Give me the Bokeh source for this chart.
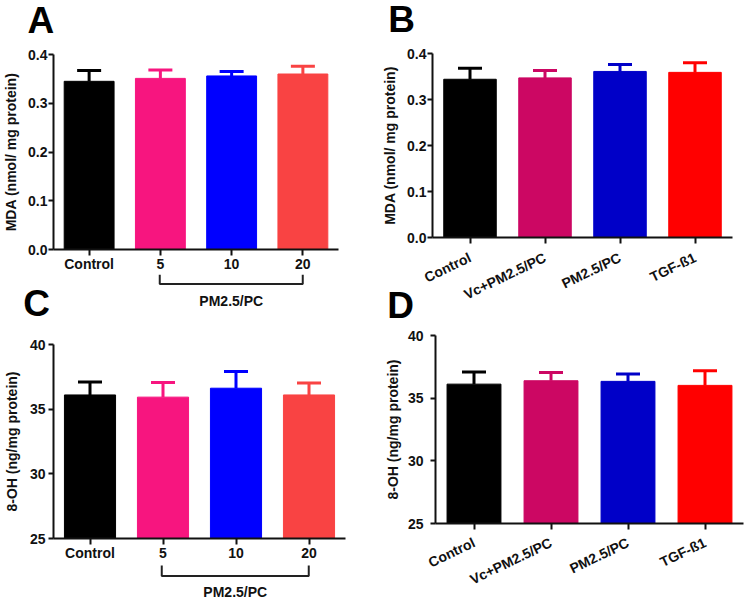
from bokeh.plotting import figure
from bokeh.layouts import row, column
from bokeh.models import Range1d, FactorRange, FixedTicker, ColumnDataSource
from bokeh.core.properties import value
from bokeh.embed import file_html
from bokeh.resources import INLINE

FONT = "Liberation Sans"

# ---------------- data ----------------
a_cats = ["Control", "5", "10", "20"]
a_mean = [0.345, 0.351, 0.356, 0.360]
a_err = [0.022, 0.017, 0.009, 0.016]
a_colors = ["#000000", "#F7157F", "#0000FF", "#F94343"]

b_cats = ["Control", "Vc+PM2.5/PC", "PM2.5/PC", "TGF-ß1"]
b_mean = [0.344, 0.347, 0.361, 0.359]
b_err = [0.024, 0.016, 0.015, 0.021]
b_colors = ["#000000", "#CC0763", "#0000C8", "#FF0000"]

c_cats = ["Control", "5", "10", "20"]
c_mean = [36.10, 35.93, 36.62, 36.10]
c_err = [1.00, 1.13, 1.29, 0.93]

d_cats = ["Control", "Vc+PM2.5/PC", "PM2.5/PC", "TGF-ß1"]
d_mean = [36.12, 36.39, 36.34, 36.02]
d_err = [0.96, 0.66, 0.58, 1.17]

mda_ticks = [0.0, 0.1, 0.2, 0.3, 0.4]
oh_ticks = [25, 30, 35, 40]

group_label = "PM2.5/PC"
group_from, group_mid, group_to = "5", "10", "20"

LETTER_PX = 37
GROUP_PX = 14


def blank(width, height, x_range=None, borders=(0, 0), **kw):
    """Plain canvas with no axes (for panel letters and brackets)."""
    xr = x_range if x_range is not None else Range1d(0, width)
    p = figure(x_range=xr, y_range=Range1d(height, 0), width=width,
               height=height, output_backend="svg", toolbar_location=None,
               x_axis_location=None, y_axis_location=None,
               min_border_left=borders[0], min_border_right=borders[1],
               min_border_top=0, min_border_bottom=0, frame_align=False,
               **kw)
    p.outline_line_color = None
    p.grid.visible = False
    return p


def letter(p, text, x, baseline):
    p.text(x=[x], y=[baseline - 0.35 * LETTER_PX], text=[text],
           text_font=value(FONT), text_font_style="bold",
           text_font_size=value(f"{LETTER_PX}px"),
           text_color="#000000", text_baseline="alphabetic",
           text_align="left")


def bracket(p, y_top, y_bot, baseline):
    p.line(x=[group_from, group_from, group_to, group_to],
           y=[y_top, y_bot, y_bot, y_top], line_width=2,
           line_color="#222222")
    p.text(x=[group_mid], y=[baseline - 0.35 * GROUP_PX], text=[group_label],
           text_font=value(FONT), text_font_style="bold",
           text_font_size=value(f"{GROUP_PX}px"), text_color="#111111",
           text_align="center", text_baseline="alphabetic")


def panel(cats, mean, err, colors, ylim, ticks, ylabel, width, height,
          borders, rotate, fmt_dec, ytick_standoff, ylab_standoff,
          xlab_standoff):
    bl, br, bt, bb = borders
    p = figure(x_range=FactorRange(*cats, range_padding=0),
               y_range=Range1d(*ylim),
               width=width, height=height, output_backend="svg",
               toolbar_location=None, frame_align=False,
               min_border_left=bl, min_border_right=br,
               min_border_top=bt, min_border_bottom=bb)
    p.outline_line_color = None
    p.xgrid.grid_line_color = None
    p.ygrid.grid_line_color = None

    top = [m + e for m, e in zip(mean, err)]
    src = ColumnDataSource(dict(x=cats, m=mean, t=top, c=colors))
    p.vbar(x="x", top="m", bottom=ylim[0], width=0.7, source=src,
           fill_color="c", line_color="c", line_width=1)
    p.segment(x0="x", y0="m", x1="x", y1="t", line_color="c",
              line_width=3, source=src)
    p.scatter(x="x", y="t", marker="dash", size=24, line_color="c",
              line_width=3, source=src)

    for ax in (p.xaxis[0], p.yaxis[0]):
        ax.axis_line_width = 2
        ax.axis_line_color = "#111111"
        ax.major_tick_line_width = 2
        ax.major_tick_line_color = "#111111"
        ax.major_label_text_font = FONT
        ax.major_label_text_font_style = "bold"
        ax.major_label_text_font_size = "14px"
        ax.major_label_text_color = "#111111"
        ax.minor_tick_line_color = None
        ax.major_tick_in = 0

    p.yaxis.ticker = FixedTicker(ticks=ticks)
    p.yaxis.major_tick_out = 5
    p.yaxis.major_label_standoff = ytick_standoff
    p.yaxis.axis_label = ylabel
    p.yaxis.axis_label_text_font = FONT
    p.yaxis.axis_label_text_font_style = "bold"
    p.yaxis.axis_label_text_font_size = "14px"
    p.yaxis.axis_label_text_color = "#111111"
    p.yaxis.axis_label_standoff = ylab_standoff
    if fmt_dec:
        p.yaxis.major_label_overrides = {t: f"{t:.1f}" for t in ticks}

    p.xaxis.major_tick_out = 6
    p.xaxis.major_label_standoff = xlab_standoff
    if rotate:
        p.xaxis.major_label_orientation = 0.45
    return p


# ---------------- left column (A, C) ----------------
topA = blank(375, 46)
letter(topA, "A", 27, 33)

pa = panel(a_cats, a_mean, a_err, a_colors, (0, 0.4), mda_ticks,
           "MDA (nmol/ mg protein)", 375, 228, (52, 37, 8, 25),
           False, True, 1, 6, 0)

midL = blank(52, 62)
letter(midL, "C", 22.7, 42)
midR = blank(323, 62, x_range=pa.x_range, borders=(0, 37))
bracket(midR, 0, 9.5, 31)

pc = panel(c_cats, c_mean, c_err, a_colors, (25, 40), oh_ticks,
           "8-OH (ng/mg protein)", 375, 228, (51, 30, 8, 26),
           False, False, 3, 7, 0)

botC = blank(375, 38, x_range=pc.x_range, borders=(51, 30))
bracket(botC, 1, 11.5, 32.7)

# ---------------- right column (B, D) ----------------
topB = blank(375, 46)
letter(topB, "B", 12.7, 31.7)

pb = panel(b_cats, b_mean, b_err, b_colors, (0, 0.4), mda_ticks,
           "MDA (nmol/ mg protein)", 375, 266, (57, 18, 7, 74),
           True, True, 1, 6, 13)

# transparent strip for the letter D, pulled up over the bottom of panel B
midD = blank(375, 42, margin=(-27, 0, 0, 0))
midD.border_fill_color = None
midD.background_fill_color = None
letter(midD, "D", 11.7, 33.3)

pd_ = panel(d_cats, d_mean, d_err, b_colors, (25, 40), oh_ticks,
            "8-OH (ng/mg protein)", 375, 275, (60, 7, 8, 79),
            True, False, 7, 4, 12)

layout = row(column(topA, pa, row(midL, midR), pc, botC),
             column(topB, pb, midD, pd_))
open("out.html", "w").write(file_html(layout, INLINE))
